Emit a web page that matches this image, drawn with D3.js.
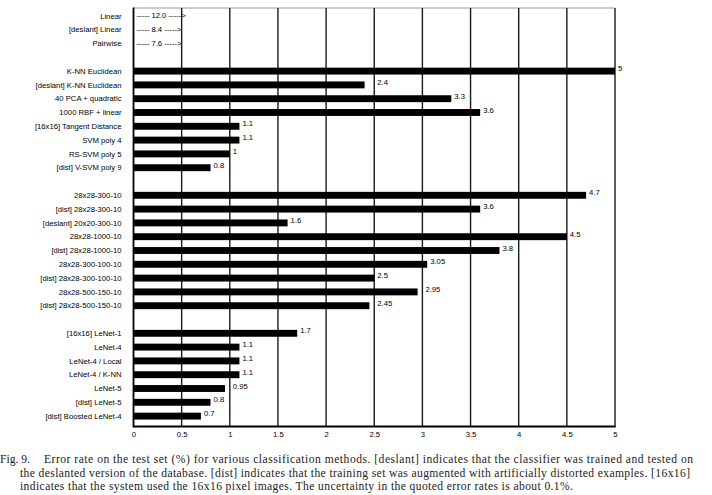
<!DOCTYPE html>
<html>
<head>
<meta charset="utf-8">
<script src="https://cdn.jsdelivr.net/npm/d3@7"></script>
<style>
  body { margin: 0; background: #fff; }
  svg { display: block; }
  .lbl { font-family: "Liberation Sans", Arial, sans-serif; font-size: 7.7px; fill: #000; }
  .cap { font-family: "Liberation Serif", "DejaVu Serif", serif; font-size: 11.6px; fill: #222; }
</style>
</head>
<body>
<svg id="chart" width="712" height="495"></svg>
<script>
// methods, top to bottom; "" marks an empty row between groups
var methods = [
  "Linear", "[deslant] Linear", "Pairwise", "",
  "K-NN Euclidean", "[deslant] K-NN Euclidean", "40 PCA + quadratic", "1000 RBF + linear",
  "[16x16] Tangent Distance", "SVM poly 4", "RS-SVM poly 5", "[dist] V-SVM poly 9", "",
  "28x28-300-10", "[dist] 28x28-300-10", "[deslant] 20x20-300-10", "28x28-1000-10",
  "[dist] 28x28-1000-10", "28x28-300-100-10", "[dist] 28x28-300-100-10",
  "28x28-500-150-10", "[dist] 28x28-500-150-10", "",
  "[16x16] LeNet-1", "LeNet-4", "LeNet-4 / Local", "LeNet-4 / K-NN", "LeNet-5",
  "[dist] LeNet-5", "[dist] Boosted LeNet-4"
];
var errorRates = [
  12.0, 8.4, 7.6, null,
  5, 2.4, 3.3, 3.6, 1.1, 1.1, 1, 0.8, null,
  4.7, 3.6, 1.6, 4.5, 3.8, 3.05, 2.5, 2.95, 2.45, null,
  1.7, 1.1, 1.1, 1.1, 0.95, 0.8, 0.7
];
var valueLabels = [
  "12.0", "8.4", "7.6", "",
  "5", "2.4", "3.3", "3.6", "1.1", "1.1", "1", "0.8", "",
  "4.7", "3.6", "1.6", "4.5", "3.8", "3.05", "2.5", "2.95", "2.45", "",
  "1.7", "1.1", "1.1", "1.1", "0.95", "0.8", "0.7"
];
var xTicks = [0, 0.5, 1, 1.5, 2, 2.5, 3, 3.5, 4, 4.5, 5];
var captionLines = [
  "Error rate on the test set (%) for various classification methods. [deslant] indicates that the classifier was trained and tested on",
  "the deslanted version of the database. [dist] indicates that the training set was augmented with artificially distorted examples. [16x16]",
  "indicates that the system used the 16x16 pixel images. The uncertainty in the quoted error rates is about 0.1%."
];

var rows = methods.map(function(m, i){
  return { key: "r" + i, name: m, value: errorRates[i], label: valueLabels[i] };
});

var plotL = 133.5, plotR = 615, plotT = 8, plotB = 426.5;
var svg = d3.select("#chart");

var x = d3.scaleLinear().domain([0, 5]).range([plotL, plotR]);
var y = d3.scaleBand()
  .domain(rows.map(function(d){ return d.key; }))
  .range([plotT + 1, plotB - 3.5])
  .paddingInner(0.5)
  .paddingOuter(0.25);

// frame top
svg.append("line")
  .attr("x1", plotL).attr("x2", plotR).attr("y1", plotT).attr("y2", plotT)
  .attr("stroke", "#999").attr("stroke-width", 1.2);

// vertical grid lines
svg.append("g").selectAll("line")
  .data(xTicks.slice(1))
  .enter().append("line")
  .attr("x1", function(d){ return x(d); })
  .attr("x2", function(d){ return x(d); })
  .attr("y1", plotT).attr("y2", plotB)
  .attr("stroke", "#1a1a1a").attr("stroke-width", 1.4);

// bars (values beyond the axis are written as text arrows)
var real = rows.filter(function(d){ return d.value !== null && d.value <= 5; });
var over = rows.filter(function(d){ return d.value !== null && d.value > 5; });

svg.append("g").selectAll("rect")
  .data(real)
  .enter().append("rect")
  .attr("x", x(0))
  .attr("y", function(d){ return y(d.key); })
  .attr("width", function(d){ return x(d.value) - x(0); })
  .attr("height", y.bandwidth())
  .attr("fill", "#000");

// value label starts past the next grid line when that line is too close
function labelX(v){
  var g = Math.ceil(v * 2) / 2;
  var start = (x(g) - x(v) < 12) ? x(g) : x(v);
  return start + 3;
}

svg.append("g").selectAll("text")
  .data(real)
  .enter().append("text")
  .attr("class", "lbl")
  .attr("x", function(d){ return labelX(d.value); })
  .attr("y", function(d){ return y(d.key) + y.bandwidth() / 2; })
  .text(function(d){ return d.label; });

svg.append("g").selectAll("text")
  .data(over)
  .enter().append("text")
  .attr("class", "lbl")
  .attr("x", x(0) + 3)
  .attr("y", function(d){ return y(d.key) + y.bandwidth() / 2 + 2.5; })
  .text(function(d){ return "----- " + d.label + " ----->"; });

// method names
svg.append("g").selectAll("text")
  .data(rows.filter(function(d){ return d.name !== ""; }))
  .enter().append("text")
  .attr("class", "lbl")
  .attr("x", plotL - 12)
  .attr("y", function(d){ return y(d.key) + y.bandwidth() / 2 + 2.7; })
  .attr("text-anchor", "end")
  .text(function(d){ return d.name; });

// x axis
var xAxis = d3.axisBottom(x).tickValues(xTicks).tickSize(0).tickPadding(5)
  .tickFormat(function(d){ return String(d); });
var gx = svg.append("g").attr("transform", "translate(0," + plotB + ")").call(xAxis);
gx.select(".domain").remove();
gx.selectAll("text").attr("class", "lbl");
gx.attr("font-size", null).attr("font-family", null);

// axis frame
svg.append("line")
  .attr("x1", plotL).attr("x2", plotR + 0.7).attr("y1", plotB).attr("y2", plotB)
  .attr("stroke", "#000").attr("stroke-width", 1.8);
svg.append("line")
  .attr("x1", plotL).attr("x2", plotL).attr("y1", plotT - 0.5).attr("y2", plotB + 0.9)
  .attr("stroke", "#000").attr("stroke-width", 1.8);

// caption
var cap = svg.append("g");
cap.append("text").attr("class", "cap").attr("x", 0).attr("y", 463).text("Fig. 9.");
var capX = [44, 20, 20], capW = [649, 670, 553], capY = [463, 477, 490];
captionLines.forEach(function(line, i){
  cap.append("text")
    .attr("class", "cap")
    .attr("x", capX[i]).attr("y", capY[i])
    .attr("textLength", capW[i])
    .attr("lengthAdjust", "spacing")
    .text(line);
});
</script>
</body>
</html>
